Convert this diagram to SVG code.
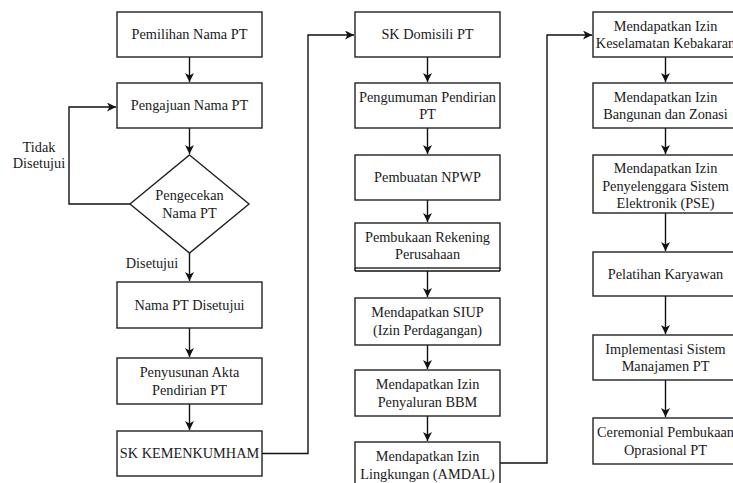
<svg xmlns="http://www.w3.org/2000/svg" width="733" height="483" viewBox="0 0 733 483">
<style>
.box{fill:#fff;stroke:#222;stroke-width:1.4}
.t{font-family:"Liberation Serif","Times New Roman",serif;font-size:14.3px;fill:#1a1a1a;text-anchor:middle}
.c{fill:none;stroke:#111;stroke-width:1.4}
</style>
<defs>
<marker id="ah" markerUnits="userSpaceOnUse" markerWidth="10" markerHeight="10" refX="9" refY="4.5" orient="auto">
<path d="M0,0 L9,4.5 L0,9 L2.5,4.5 z" fill="#111"/>
</marker>
</defs>
<rect width="733" height="483" fill="#fff"/>
<g id="connectors">
<path class="c" d="M189.5,57 V82" marker-end="url(#ah)"/>
<path class="c" d="M189.5,128 V154" marker-end="url(#ah)"/>
<path class="c" d="M130,204 H69 V107 H116" marker-end="url(#ah)"/>
<path class="c" d="M189.5,253 V281" marker-end="url(#ah)"/>
<path class="c" d="M189.5,328 V357" marker-end="url(#ah)"/>
<path class="c" d="M189.5,404 V430" marker-end="url(#ah)"/>
<path class="c" d="M262,453.5 H308 V35 H354" marker-end="url(#ah)"/>
<path class="c" d="M427.5,57 V82" marker-end="url(#ah)"/>
<path class="c" d="M427.5,128 V154" marker-end="url(#ah)"/>
<path class="c" d="M427.5,200 V222" marker-end="url(#ah)"/>
<path class="c" d="M427.5,271 V297" marker-end="url(#ah)"/>
<path class="c" d="M427.5,345 V369" marker-end="url(#ah)"/>
<path class="c" d="M427.5,416 V441" marker-end="url(#ah)"/>
<path class="c" d="M500,463 H547 V35 H592" marker-end="url(#ah)"/>
<path class="c" d="M665.5,57 V82" marker-end="url(#ah)"/>
<path class="c" d="M665.5,128 V154" marker-end="url(#ah)"/>
<path class="c" d="M665.5,213 V251" marker-end="url(#ah)"/>
<path class="c" d="M665.5,296 V334" marker-end="url(#ah)"/>
<path class="c" d="M665.5,380 V417" marker-end="url(#ah)"/>
</g>
<g id="lbl-tidak"><text class="t" x="39" y="152">Tidak</text><text class="t" x="39" y="168">Disetujui</text></g>
<g id="lbl-disetujui"><text class="t" x="152" y="268">Disetujui</text></g>
<g id="n1"><rect class="box" x="117" y="12" width="145" height="45"/><text class="t" x="189.5" y="39">Pemilihan Nama PT</text></g>
<g id="n2"><rect class="box" x="117" y="83" width="145" height="45"/><text class="t" x="189.5" y="110">Pengajuan Nama PT</text></g>
<g id="n3"><polygon class="box" points="189.5,155 249,204 189.5,253 130,204"/><text class="t" x="189.5" y="200">Pengecekan</text><text class="t" x="189.5" y="217.5">Nama PT</text></g>
<g id="n4"><rect class="box" x="117" y="282" width="145" height="46"/><text class="t" x="189.5" y="309.5">Nama PT Disetujui</text></g>
<g id="n5"><rect class="box" x="117" y="358" width="145" height="46"/><text class="t" x="189.5" y="377">Penyusunan Akta</text><text class="t" x="189.5" y="394.5">Pendirian PT</text></g>
<g id="n6"><rect class="box" x="117" y="431" width="145" height="45"/><text class="t" x="189.5" y="458">SK KEMENKUMHAM</text></g>
<g id="m1"><rect class="box" x="355" y="12" width="145" height="45"/><text class="t" x="427.5" y="39">SK Domisili PT</text></g>
<g id="m2"><rect class="box" x="355" y="83" width="145" height="45"/><text class="t" x="427.5" y="101.5">Pengumuman Pendirian</text><text class="t" x="427.5" y="119">PT</text></g>
<g id="m3"><rect class="box" x="355" y="155" width="145" height="45"/><text class="t" x="427.5" y="182">Pembuatan NPWP</text></g>
<g id="m4"><rect class="box" x="355" y="223" width="145" height="45"/><line class="c" x1="355" y1="271" x2="500" y2="271"/><line class="c" x1="355" y1="268" x2="355" y2="271"/><line class="c" x1="500" y1="268" x2="500" y2="271"/><text class="t" x="427.5" y="241.5">Pembukaan Rekening</text><text class="t" x="427.5" y="259">Perusahaan</text></g>
<g id="m5"><rect class="box" x="355" y="298" width="145" height="47"/><text class="t" x="427.5" y="317">Mendapatkan SIUP</text><text class="t" x="427.5" y="334.5">(Izin Perdagangan)</text></g>
<g id="m6"><rect class="box" x="355" y="370" width="145" height="46"/><text class="t" x="427.5" y="389">Mendapatkan Izin</text><text class="t" x="427.5" y="406.5">Penyaluran BBM</text></g>
<g id="m7"><rect class="box" x="355" y="442" width="145" height="48"/><text class="t" x="427.5" y="461">Mendapatkan Izin</text><text class="t" x="427.5" y="478.5">Lingkungan (AMDAL)</text></g>
<g id="r1"><rect class="box" x="593" y="12" width="145" height="45"/><text class="t" x="665.5" y="30.5">Mendapatkan Izin</text><text class="t" x="665.5" y="48">Keselamatan Kebakaran</text></g>
<g id="r2"><rect class="box" x="593" y="83" width="145" height="45"/><text class="t" x="665.5" y="101.5">Mendapatkan Izin</text><text class="t" x="665.5" y="119">Bangunan dan Zonasi</text></g>
<g id="r3"><rect class="box" x="593" y="155" width="145" height="58"/><text class="t" x="665.5" y="173">Mendapatkan Izin</text><text class="t" x="665.5" y="190.5">Penyelenggara Sistem</text><text class="t" x="665.5" y="208">Elektronik (PSE)</text></g>
<g id="r4"><rect class="box" x="593" y="252" width="145" height="44"/><text class="t" x="665.5" y="278.5">Pelatihan Karyawan</text></g>
<g id="r5"><rect class="box" x="593" y="335" width="145" height="45"/><text class="t" x="665.5" y="353.5">Implementasi Sistem</text><text class="t" x="665.5" y="371">Manajamen PT</text></g>
<g id="r6"><rect class="box" x="593" y="418" width="145" height="46"/><text class="t" x="665.5" y="437">Ceremonial Pembukaan</text><text class="t" x="665.5" y="454.5">Oprasional PT</text></g>
</svg>
